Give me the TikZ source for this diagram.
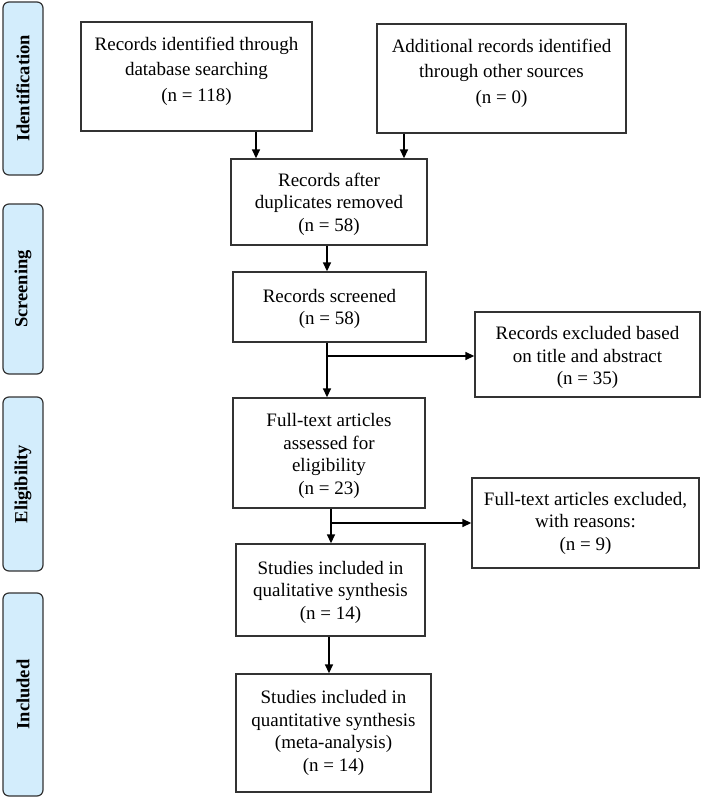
\documentclass[tikz,border=0pt]{standalone}
\usepackage{fontspec}
\setmainfont{Liberation Serif}
\usetikzlibrary{arrows.meta}
\definecolor{sidefill}{HTML}{D3EDFC}
\definecolor{boxdraw}{HTML}{333333}
\newcommand{\boxtxt}[2]{\raisebox{#1}[\height][\depth]{\begin{tabular}{@{}c@{}}#2\end{tabular}}}
\tikzset{
  mainbox/.style={draw=boxdraw, line width=1.4pt, fill=white, inner sep=0pt,
    font=\fontsize{19}{22.5}\selectfont},
  topbox/.style={mainbox, font=\fontsize{19}{25.5}\selectfont},
  sidebox/.style={draw=boxdraw, line width=1.2pt, fill=sidefill, rounded corners=6pt,
    rotate=90, inner sep=0pt, minimum height=40pt, font=\bfseries\fontsize{18.5}{21}\selectfont},
  arr/.style={line width=1.6pt, -{Triangle[length=9pt,width=8pt]}}
}
\begin{document}
\begin{tikzpicture}[x=1pt,y=-1pt]
\useasboundingbox (0,0) rectangle (709,800);
% side labels
\node[sidebox, minimum width=173pt] (sid) at (23,88.5) {Identification};
\node[sidebox, minimum width=170pt] (sscr) at (23,289) {Screening};
\node[sidebox, minimum width=174pt] (selig) at (23,484) {Eligibility};
\node[sidebox, minimum width=203pt] (sinc) at (23,694.5) {Included};
% main boxes
\node[topbox, minimum width=231pt, minimum height=109pt] (b1) at (196.5,76.5)
  {\boxtxt{6pt}{Records identified through\\database searching\\(n = 118)}};
\node[topbox, minimum width=249pt, minimum height=109pt] (b2) at (501.5,78.5)
  {\boxtxt{6pt}{Additional records identified\\through other sources\\(n = 0)}};
\node[mainbox, minimum width=196pt, minimum height=86pt] (b3) at (329,202)
  {\boxtxt{-2pt}{Records after\\duplicates removed\\(n = 58)}};
\node[mainbox, minimum width=193pt, minimum height=70pt] (b4) at (329.5,307)
  {\boxtxt{-2pt}{Records screened\\(n = 58)}};
\node[mainbox, minimum width=225pt, minimum height=85pt] (r1) at (587.5,354.5)
  {\boxtxt{-3pt}{Records excluded based\\on title and abstract\\(n = 35)}};
\node[mainbox, minimum width=192pt, minimum height=110pt] (b5) at (329,453)
  {\boxtxt{-3pt}{Full-text articles\\assessed for\\eligibility\\(n = 23)}};
\node[mainbox, minimum width=227pt, minimum height=90pt] (r2) at (585.5,523)
  {\boxtxt{0pt}{Full-text articles excluded,\\with reasons:\\(n = 9)}};
\node[mainbox, minimum width=189pt, minimum height=92pt] (b6) at (330.5,590)
  {\boxtxt{-2pt}{Studies included in\\qualitative synthesis\\(n = 14)}};
\node[mainbox, minimum width=195pt, minimum height=118pt] (b7) at (333.5,733)
  {\boxtxt{0pt}{Studies included in\\quantitative synthesis\\(meta-analysis)\\(n = 14)}};
% helper coordinates
\coordinate (xa) at (256,0);
\coordinate (xb) at (404,0);
\coordinate (xc) at (327,0);
\coordinate (xd) at (331,0);
\coordinate (xe) at (329,0);
\coordinate (ya) at (0,356);
\coordinate (yb) at (0,523);
% connectors
\draw[arr] (b1.south -| xa) -- (b3.north -| xa);
\draw[arr] (b2.south -| xb) -- (b3.north -| xb);
\draw[arr] (b3.south -| xc) -- (b4.north -| xc);
\draw[arr] (b4.south -| xc) -- (b5.north -| xc);
\coordinate (j1) at (xc |- ya);
\draw[arr] (j1) -- (r1.west |- ya);
\draw[arr] (b5.south -| xd) -- (b6.north -| xd);
\coordinate (j2) at (xd |- yb);
\draw[arr] (j2) -- (r2.west |- yb);
\draw[arr] (b6.south -| xe) -- (b7.north -| xe);
\end{tikzpicture}
\end{document}
